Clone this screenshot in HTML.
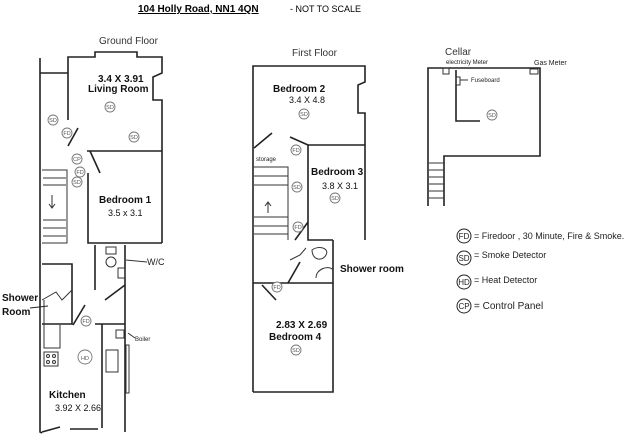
<!DOCTYPE html>
<html><head><meta charset="utf-8"><style>
html,body{margin:0;padding:0;background:#fff;}
svg{display:block;font-family:"Liberation Sans",sans-serif;}
.w{stroke:#222;stroke-width:1.6;fill:none;}
.t{stroke:#333;stroke-width:1;fill:none;}
.c{fill:#fff;stroke:#777;stroke-width:0.9;}
.ct{font-size:5.5px;fill:#555;text-anchor:middle;}
.b{font-weight:bold;font-size:10px;fill:#111;}
.s{font-size:9px;fill:#111;}
</style></head><body>
<svg width="640" height="440" viewBox="0 0 640 440">
<text x="138" y="12" font-size="10" font-weight="bold" text-decoration="underline">104 Holly Road, NN1 4QN</text>
<text x="290" y="12" font-size="9">- NOT TO SCALE</text>
<text x="99" y="44" font-size="10" fill="#333">Ground Floor</text>
<text x="292" y="56" font-size="10" fill="#333">First Floor</text>
<text x="445" y="55" font-size="10" fill="#333">Cellar</text>

<g class="w">
<path d="M40 58 L40 432 L42 433"/>
<path d="M68 120 L68 57 L95 57 L95 52 L137 52 L137 57 L162 57 L162 73 L153 77 L153 100 L162 100 L162 243"/>
<path d="M87 151 L162 151"/>
<path d="M40 73 L68 73"/>
<path d="M68 146 L78 128"/>
<path d="M88 173 L88 243 L162 243"/>
<path d="M90 151 L100 173"/>
<path d="M42 264 L72 264 L72 324 L42 324"/>
<path d="M95 245 L95 290"/>
<path d="M125 245 L125 432"/>
<path d="M102 324 L102 428"/>
<path d="M95 324 L125 324"/>
<path d="M73 325 L85 305"/>
<path d="M105 300 L125 285"/>
<path d="M42 432 L60 427"/>
<path d="M70 429 L98 429"/>
</g>
<g class="t">
<path d="M42 170 L67 170 L67 243 L42 243"/>
<path d="M43 178 L66 178 M43 185 L66 185 M43 220 L66 220 M43 228 L66 228 M43 236 L66 236"/>
<path d="M52 195 L52 208 M49 204 L52 208 L55 204"/>
<path d="M44 300 L44 348 L60 348 L60 325"/>
<rect x="44" y="352" width="14" height="14"/>
<circle cx="48" cy="356" r="1.5"/><circle cx="54" cy="356" r="1.5"/><circle cx="48" cy="362" r="1.5"/><circle cx="54" cy="362" r="1.5"/>
<path d="M42 300 L56 292 L62 300 L72 290"/>
<circle cx="111" cy="262" r="5"/><rect x="106" y="247" width="10" height="7"/>
<rect x="118" y="268" width="7" height="10"/>
<rect x="116" y="330" width="8" height="8"/>
<rect x="106" y="350" width="12" height="22"/>
<rect x="126" y="345" width="3" height="48"/>
<path d="M126 260 L147 262"/>
<path d="M128 333 L135 338"/>
</g>
<text x="147" y="265" font-size="9" fill="#222">W/C</text>
<text x="135" y="341" font-size="6" fill="#222">Boiler</text>
<text x="98" y="82" class="b" font-size="9">3.4 X 3.91</text>
<text x="88" y="92" class="b" font-size="9">Living Room</text>
<text x="99" y="203" class="b">Bedroom 1</text>
<text x="108" y="216" class="s">3.5 x 3.1</text>
<text x="2" y="301" class="b">Shower</text>
<text x="2" y="315" class="b">Room</text>
<path d="M30 308 L48 306" stroke="#222" stroke-width="1"/>
<text x="49" y="398" class="b">Kitchen</text>
<text x="55" y="411" class="s">3.92 X 2.66</text>

<g class="w">
<path d="M253 392 L253 66 L365 66 L365 82 L358 85 L358 113 L365 113 L365 240"/>
<path d="M308 145 L365 145"/>
<path d="M308 145 L308 240 L333 240"/>
<path d="M333 240 L333 392 L253 392"/>
<path d="M253 283 L333 283"/>
<path d="M254 148 L272 133"/>
<path d="M290 137 L308 145"/>
<path d="M308 222 L295 240"/>
<path d="M288 283 L300 262"/>
<path d="M262 285 L276 300"/>
</g>
<g class="t">
<path d="M253 167 L288 167 L288 240 M254 176 L288 176 M254 185 L288 185 M254 217 L288 217 M254 226 L288 226 M254 234 L288 234"/>
<path d="M268 202 L268 213 M265 206 L268 202 L271 206"/>
<path d="M290 260 L300 255 L306 248"/>
<path d="M312 250 C318 245 330 248 326 255 C322 262 312 260 312 250Z"/>
<path d="M316 278 C316 268 330 265 333 270"/>
</g>
<text x="256" y="161" font-size="6" fill="#222">storage</text>
<text x="273" y="92" class="b">Bedroom 2</text>
<text x="289" y="103" class="s">3.4 X 4.8</text>
<text x="311" y="175" class="b">Bedroom 3</text>
<text x="322" y="189" class="s">3.8 X 3.1</text>
<text x="340" y="272" class="b">Shower room</text>
<text x="276" y="328" class="b" font-size="9">2.83 X 2.69</text>
<text x="269" y="340" class="b">Bedroom 4</text>

<g class="w">
<path d="M428 206 L428 68 L540 68 L540 156 L444 156 L444 206"/>
<path d="M456 70 L456 121 L480 121"/>
</g>
<g class="t">
<path d="M429 163 L444 163 M429 170 L444 170 M429 177 L444 177 M429 184 L444 184 M429 191 L444 191 M429 198 L444 198"/>
<rect x="443" y="68" width="6" height="6"/><rect x="530" y="69" width="8" height="5"/><rect x="456" y="77" width="4" height="8"/>
<path d="M460 80 L468 80"/>
</g>
<text x="446" y="64" font-size="6" fill="#222">electricity Meter</text>
<text x="534" y="65" font-size="7" fill="#222">Gas Meter</text>
<text x="471" y="82" font-size="6" fill="#222">Fuseboard</text>

<g>
<circle class="c" cx="110" cy="107" r="5"/><text class="ct" x="110" y="109">SD</text>
<circle class="c" cx="53" cy="120" r="5"/><text class="ct" x="53" y="122">SD</text>
<circle class="c" cx="134" cy="137" r="5"/><text class="ct" x="134" y="139">SD</text>
<circle class="c" cx="77" cy="182" r="5"/><text class="ct" x="77" y="184">SD</text>
<circle class="c" cx="67" cy="133" r="5"/><text class="ct" x="67" y="135">FD</text>
<circle class="c" cx="80" cy="172" r="5"/><text class="ct" x="80" y="174">FD</text>
<circle class="c" cx="77" cy="159" r="5"/><text class="ct" x="77" y="161">CP</text>
<circle class="c" cx="86" cy="321" r="5"/><text class="ct" x="86" y="323">FD</text>
<circle class="c" cx="85" cy="357" r="7"/><text class="ct" x="85" y="360" font-size="8">HD</text>
<circle class="c" cx="304" cy="114" r="5"/><text class="ct" x="304" y="116">SD</text>
<circle class="c" cx="296" cy="150" r="5"/><text class="ct" x="296" y="152">FD</text>
<circle class="c" cx="297" cy="187" r="5"/><text class="ct" x="297" y="189">SD</text>
<circle class="c" cx="298" cy="227" r="5"/><text class="ct" x="298" y="229">FD</text>
<circle class="c" cx="335" cy="198" r="5"/><text class="ct" x="335" y="200">SD</text>
<circle class="c" cx="277" cy="287" r="5"/><text class="ct" x="277" y="289">FD</text>
<circle class="c" cx="296" cy="350" r="5"/><text class="ct" x="296" y="352">SD</text>
<circle class="c" cx="492" cy="115" r="5"/><text class="ct" x="492" y="117">SD</text>
</g>

<g font-size="9" fill="#222">
<circle cx="464" cy="236" r="7" fill="none" stroke="#222"/><text x="464" y="239" text-anchor="middle" font-size="8">FD</text>
<text x="474" y="239">= Firedoor , 30 Minute, Fire &amp; Smoke.</text>
<circle cx="464" cy="258" r="7" fill="none" stroke="#222"/><text x="464" y="261" text-anchor="middle" font-size="8">SD</text>
<text x="474" y="258">= Smoke Detector</text>
<circle cx="464" cy="282" r="7" fill="none" stroke="#222"/><text x="464" y="285" text-anchor="middle" font-size="8">HD</text>
<text x="474" y="283">= Heat Detector</text>
<circle cx="464" cy="306" r="7" fill="none" stroke="#222"/><text x="464" y="309" text-anchor="middle" font-size="8">CP</text>
<text x="474" y="309" font-size="10">= Control Panel</text>
</g>
</svg>
</body></html>
